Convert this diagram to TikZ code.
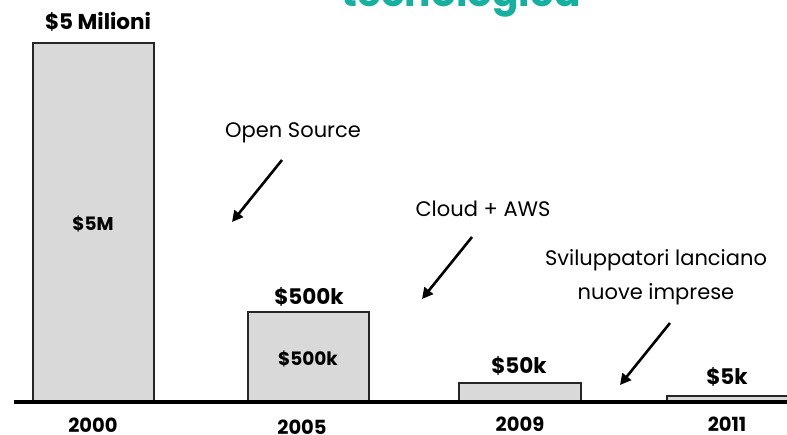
\documentclass[tikz,border=0pt]{standalone}
\usepackage{fontspec}
\setmainfont{Poppins}
\usetikzlibrary{arrows.meta}
\definecolor{titleteal}{RGB}{22,176,160}
\definecolor{barfill}{RGB}{217,217,217}

\begin{document}
\begin{tikzpicture}[x=1pt,y=-1pt,
    bar/.style={draw=black!85,line width=1.2pt,fill=barfill},
    val/.style={font=\fontsize{21.5}{23}\selectfont\bfseries},
    inval/.style={font=\fontsize{18.5}{20}\selectfont\bfseries},
    year/.style={font=\fontsize{19.5}{21}\selectfont\bfseries},
    note/.style={font=\fontsize{21}{34}\selectfont,align=center},
    push/.style={line width=2.6pt,-{Triangle[length=11pt,width=11pt]}}]
  \useasboundingbox (0,0) rectangle (787,434);
  % title, only its lower part is on the page
  \node[anchor=base,text=titleteal,font=\fontsize{39}{42}\selectfont\bfseries] (title) at (461,6) {tecnologica};
  % bars
  \draw[bar] (33,402) rectangle (154,43);
  \draw[bar] (248,402) rectangle (369,312);
  \draw[bar] (459,402) rectangle (581,383);
  \draw[bar] (667,402) rectangle (790,396);
  \draw[line width=3.8pt] (14,402) -- (790,402);
  % values
  \node[val] (v2000) at (98,22) {\$5 Milioni};
  \node[inval] (m2000) at (93,224) {\$5M};
  \node[val] (v2005) at (309,297) {\$500k};
  \node[inval] (m2005) at (308,359) {\$500k};
  \node[val] (v2009) at (519,366) {\$50k};
  \node[val] (v2011) at (727,377) {\$5k};
  % years
  \node[year] (y2000) at (93,425) {2000};
  \node[year] (y2005) at (302,427) {2005};
  \node[year] (y2009) at (520,424) {2009};
  \node[year] (y2011) at (727,424) {2011};
  % notes and arrows
  \node[note] (open) at (293,133) {Open Source};
  \node[note] (cloud) at (483,209) {Cloud + AWS};
  \node[note] (devs) at (656,277) {Sviluppatori lanciano\\nuove imprese};
  \coordinate (open-s) at (282,160);
  \coordinate (open-e) at (232,222);
  \coordinate (cloud-s) at (472,237);
  \coordinate (cloud-e) at (422,299);
  \coordinate (devs-s) at (670,323);
  \coordinate (devs-e) at (620,385);
  \draw[push] (open-s) -- (open-e);
  \draw[push] (cloud-s) -- (cloud-e);
  \draw[push] (devs-s) -- (devs-e);
\end{tikzpicture}
\end{document}
